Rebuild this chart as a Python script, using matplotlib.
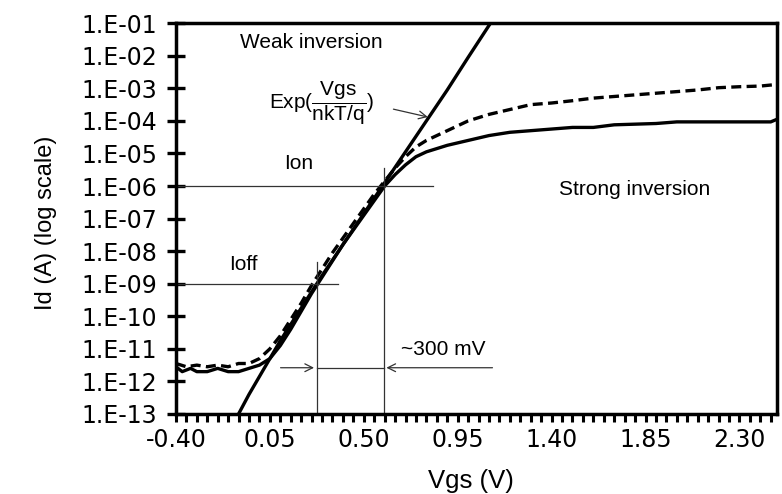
import numpy as np
import matplotlib
matplotlib.use("Agg")
import matplotlib.pyplot as plt
from matplotlib.ticker import FixedLocator, MultipleLocator

plt.rcParams['font.family'] = ['Liberation Sans', 'DejaVu Sans']
plt.rcParams['mathtext.fontset'] = 'custom'
plt.rcParams['mathtext.rm'] = 'Liberation Sans'

# -------------------------------------------------------------------------
# DATA (log10 of Id)
# -------------------------------------------------------------------------

# ideal exponential line
vgs_exp = [-0.10, -0.05, 0.00, 0.05, 0.10, 0.20, 0.30, 0.40, 0.50, 0.60, 0.70, 0.80, 0.90, 1.00, 1.107]
log_exp = [-13.0, -12.4, -11.85, -11.3, -10.75, -9.75, -8.75, -7.8, -6.85, -5.9, -4.95, -4.0, -3.05, -2.05, -1.0]

# measured device (dashed)
vgs_dash = [-0.40, -0.35, -0.30, -0.25, -0.20, -0.15, -0.10, -0.05, 0.00, 0.05, 0.10, 0.15, 0.20,
            0.25, 0.30, 0.35, 0.40, 0.45, 0.50, 0.55, 0.60, 0.65, 0.70, 0.75, 0.80, 0.85, 0.90,
            1.00, 1.10, 1.20, 1.30, 1.40, 1.50, 1.60, 1.70, 1.80, 1.90, 2.00, 2.10, 2.20, 2.30, 2.40, 2.48]
log_dash = [-11.45, -11.55, -11.5, -11.55, -11.5, -11.55, -11.45, -11.45, -11.3, -11.0, -10.6, -10.1, -9.6,
            -9.05, -8.55, -8.05, -7.6, -7.15, -6.7, -6.25, -5.85, -5.45, -5.1, -4.8, -4.6, -4.45, -4.3,
            -4.0, -3.8, -3.65, -3.5, -3.45, -3.38, -3.3, -3.25, -3.2, -3.15, -3.1, -3.05, -2.98, -2.95, -2.93, -2.88]

# measured device (solid)
vgs_sol = [-0.40, -0.37, -0.33, -0.30, -0.25, -0.20, -0.15, -0.10, -0.05, 0.00, 0.05, 0.10, 0.15, 0.20,
           0.25, 0.30, 0.35, 0.40, 0.45, 0.50, 0.55, 0.60, 0.65, 0.70, 0.75, 0.80, 0.85, 0.90,
           1.00, 1.10, 1.20, 1.30, 1.40, 1.50, 1.60, 1.70, 1.80, 1.90, 2.00, 2.20, 2.45, 2.48]
log_sol = [-11.55, -11.7, -11.6, -11.7, -11.7, -11.6, -11.7, -11.7, -11.6, -11.5, -11.3, -10.9, -10.4, -9.85,
           -9.3, -8.8, -8.3, -7.8, -7.35, -6.9, -6.45, -6.0, -5.65, -5.35, -5.1, -4.95, -4.85, -4.75,
           -4.6, -4.45, -4.35, -4.3, -4.25, -4.2, -4.2, -4.12, -4.1, -4.08, -4.03, -4.03, -4.03, -3.95]

x_ticks = [-0.40, 0.05, 0.50, 0.95, 1.40, 1.85, 2.30]
x_tick_labels = ['-0.40', '0.05', '0.50', '0.95', '1.40', '1.85', '2.30']
y_exps = list(range(-13, 0))
y_tick_labels = ['1.E-%02d' % (-e) for e in y_exps]

I_off = 1e-9
I_on = 1e-6
V_off = 0.275
V_on = 0.595

# -------------------------------------------------------------------------
# PLOT
# -------------------------------------------------------------------------

fig = plt.figure(figsize=(7.82, 4.94), dpi=100)
ax = fig.add_axes([0.225, 0.162, 0.7686, 0.791])

ax.plot(vgs_exp, 10.0**np.array(log_exp), 'k-', lw=2.4)
ax.plot(vgs_sol, 10.0**np.array(log_sol), 'k-', lw=2.4)
ax.plot(vgs_dash, 10.0**np.array(log_dash), 'k--', lw=2.4, dashes=(3, 1.6))

ax.set_yscale('log')
ax.set_xlim(-0.40, 2.48)
ax.set_ylim(1e-13, 1e-1)

# Ion / Ioff guide lines
thin = dict(color='#333333', lw=0.9)
ax.plot([-0.40, 0.834], [I_on, I_on], **thin)
ax.plot([V_on, V_on], [1e-13, 10**-5.45], **thin)
ax.plot([-0.40, 0.375], [I_off, I_off], **thin)
ax.plot([V_off, V_off], [1e-13, 10**-8.33], **thin)

y_arr = 10**-11.58
ax.plot([V_off, V_on], [y_arr, y_arr], **thin)
ax.annotate('', xy=(V_off, y_arr), xytext=(0.088, y_arr),
            arrowprops=dict(arrowstyle='->', color='#333333', lw=0.9, mutation_scale=14))
ax.annotate('', xy=(V_on, y_arr), xytext=(1.13, y_arr),
            arrowprops=dict(arrowstyle='->', color='#333333', lw=0.9, mutation_scale=14))
ax.annotate('', xy=(0.82, 10**-3.9), xytext=(0.629, 10**-3.62),
            arrowprops=dict(arrowstyle='->', color='#333333', lw=0.9, mutation_scale=14))

fs = 15
ax.text(-0.094, 10**-1.59, 'Weak inversion', fontsize=fs, ha='left', va='center')
ax.text(0.045, 10**-3.47, r'Exp($\dfrac{\mathrm{Vgs}}{\mathrm{nkT/q}}$)', fontsize=fs, ha='left', va='center')
ax.text(0.189, 10**-5.3, 'Ion', fontsize=fs, ha='center', va='center')
ax.text(-0.075, 10**-8.42, 'Ioff', fontsize=fs, ha='center', va='center')
ax.text(1.80, 10**-6.1, 'Strong inversion', fontsize=fs, ha='center', va='center')
ax.text(0.882, 10**-11.02, '~300 mV', fontsize=fs, ha='center', va='center')

ax.yaxis.set_major_locator(FixedLocator([10.0**e for e in y_exps]))
ax.set_yticklabels(y_tick_labels, family='DejaVu Sans')
ax.yaxis.set_minor_locator(FixedLocator([]))
ax.set_xticks(x_ticks)
ax.set_xticklabels(x_tick_labels, family='DejaVu Sans')
ax.xaxis.set_minor_locator(MultipleLocator(0.05))

ax.tick_params(axis='y', which='major', direction='inout', length=13, width=2.4, labelsize=17, pad=7)
ax.tick_params(axis='x', which='both', direction='out', length=6, width=2.2, labelsize=17, pad=4)

for s in ax.spines.values():
    s.set_linewidth(2.5)

ax.set_xlabel('Vgs (V)', fontsize=18.5)
ax.set_ylabel('Id (A) (log scale)', fontsize=17)
ax.xaxis.set_label_coords(0.49, -0.14)
ax.yaxis.set_label_coords(-0.198, 0.49)

fig.savefig('out.png', dpi=100)
